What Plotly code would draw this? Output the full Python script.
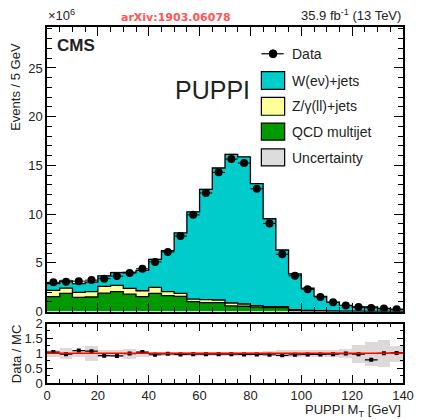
import plotly.graph_objects as go
import numpy as np

# ---------------- data ----------------
edges = list(range(0, 145, 5))
centers = [e + 2.5 for e in edges[:-1]]
data = [3.0, 3.06, 3.12, 3.23, 3.38, 3.64, 3.97, 4.4, 5.1, 6.12, 7.75, 9.93, 12.17, 14.29,
        15.65, 15.24, 12.6, 9.05, 5.88, 3.67, 2.3, 1.5, 0.95, 0.63, 0.46, 0.38, 0.32, 0.24]
ratio = [1.04, 0.97, 1.09, 1.07, 0.92, 0.91, 0.99, 1.04, 0.95, 0.98, 0.96, 0.97, 0.97, 0.97,
         0.97, 0.96, 0.96, 0.95, 0.93, 0.95, 0.96, 0.96, 0.97, 0.99, 0.97, 0.78, 1.0, 1.01]
qcd = [1.53, 1.87, 1.46, 1.5, 1.9, 2.04, 1.8, 1.53, 1.87, 1.63, 1.56, 1.02, 0.92, 0.92,
       0.58, 0.55, 0.45, 0.4, 0.4, 0.1, 0.05, 0.04, 0.03, 0.02, 0.02, 0.01, 0.01, 0.01]
zjets = [0.65, 0.54, 0.51, 0.54, 0.68, 0.65, 0.58, 0.61, 0.61, 0.41, 0.3, 0.27, 0.3, 0.27,
         0.3, 0.23, 0.15, 0.12, 0.12, 0.1, 0.08, 0.05, 0.04, 0.03, 0.02, 0.02, 0.01, 0.01]
# relative MC uncertainty shown in the ratio panel
unc_rel = [0.12, 0.18, 0.12, 0.26, 0.12, 0.12, 0.16, 0.1, 0.07, 0.07, 0.06, 0.06, 0.06, 0.06,
           0.06, 0.06, 0.07, 0.08, 0.12, 0.12, 0.12, 0.12, 0.12, 0.15, 0.3, 0.4, 0.45, 0.27]
# absolute uncertainty (x10^6) drawn on top of the stack in the main panel
unc_main = [0.12, 0.15, 0.12, 0.2, 0.12, 0.12, 0.15, 0.12, 0.1, 0.1, 0.1, 0.1, 0.1, 0.1,
            0.1, 0.1, 0.1, 0.1, 0.08, 0.06, 0.05, 0.05, 0.04, 0.04, 0.05, 0.05, 0.05, 0.03]
ratio_err = [0.02, 0.02, 0.02, 0.02, 0.02, 0.02, 0.02, 0.02, 0.01, 0.01, 0.01, 0.01, 0.01, 0.01,
             0.01, 0.01, 0.01, 0.01, 0.01, 0.01, 0.01, 0.01, 0.02, 0.02, 0.02, 0.03, 0.03, 0.03]

data = np.array(data)
ratio = np.array(ratio)
qcd = np.array(qcd)
zjets = np.array(zjets)
unc_rel = np.array(unc_rel)
unc_main = np.array(unc_main)
mc_total = data / ratio
wjets = mc_total - qcd - zjets

FONT = "Liberation Sans, Arial, sans-serif"
OFF = 8  # default page body margin
# screen-pixel frame of the reference
SX0, SX1, SY0, SY1 = 47, 414, 24, 383
W, H = 426 - OFF, 420 - OFF
L, R, T, B = SX0 - OFF, 426 - SX1, SY0 - OFF, 420 - SY1
PW, PH = SX1 - SX0, SY1 - SY0


def px(xp):
    return (xp - SX0) / PW


def py(yp):
    return (SY1 - yp) / PH


def step(vals):
    v = list(vals)
    return v + [v[-1]]


fig = go.Figure()

c1 = qcd
c2 = qcd + zjets
c3 = qcd + zjets + wjets

fig.add_trace(go.Scatter(x=edges, y=step(c1), mode="lines", line=dict(shape="hv", color="black", width=1.3),
                         fill="tozeroy", fillcolor="#009900", xaxis="x", yaxis="y", showlegend=False))
fig.add_trace(go.Scatter(x=edges, y=step(c2), mode="lines", line=dict(shape="hv", color="black", width=1.3),
                         fill="tonexty", fillcolor="#ffff99", xaxis="x", yaxis="y", showlegend=False))
fig.add_trace(go.Scatter(x=edges, y=step(c3), mode="lines", line=dict(shape="hv", color="black", width=1.3),
                         fill="tonexty", fillcolor="#00cccc", xaxis="x", yaxis="y", showlegend=False))

# uncertainty band on main plot
fig.add_trace(go.Bar(x=centers, y=2 * unc_main, base=mc_total - unc_main, width=5,
                     marker=dict(color="rgba(200,200,200,0.6)", line=dict(width=0)),
                     xaxis="x", yaxis="y", showlegend=False))

# data
fig.add_trace(go.Scatter(x=centers, y=data, mode="markers",
                         marker=dict(color="black", size=8),
                         error_x=dict(type="constant", value=2.5, width=0, thickness=1, color="black"),
                         xaxis="x", yaxis="y", showlegend=False))

# ratio panel
fig.add_trace(go.Bar(x=centers, y=2 * unc_rel, base=1 - unc_rel, width=5,
                     marker=dict(color="rgba(205,205,205,0.75)", line=dict(width=0)),
                     xaxis="x2", yaxis="y2", showlegend=False))
fig.add_trace(go.Scatter(x=centers, y=ratio, mode="markers",
                         marker=dict(color="black", size=4, symbol="square"),
                         error_x=dict(type="constant", value=2.5, width=0, thickness=1.2, color="black"),
                         error_y=dict(type="data", array=ratio_err, width=0, thickness=1, color="black"),
                         xaxis="x2", yaxis="y2", showlegend=False))

axis_common = dict(showline=True, linecolor="black", linewidth=1.5, mirror="ticks", ticks="inside",
                   tickcolor="black", showgrid=False, zeroline=False,
                   tickfont=dict(family=FONT, size=13, color="#222"))

fig.update_layout(
    width=W, height=H, margin=dict(l=L, r=R, t=T, b=B),
    paper_bgcolor="white", plot_bgcolor="white",
    barmode="overlay", bargap=0,
    font=dict(family=FONT, color="#222"),
    xaxis=dict(domain=[0, 1], anchor="y", range=[0, 140], dtick=20, ticklen=9, showticklabels=False,
               minor=dict(dtick=5, ticklen=5, ticks="inside", tickcolor="black"), **axis_common),
    yaxis=dict(domain=[py(311), 1], anchor="x", range=[0, 29.2], dtick=5, ticklen=9,
               minor=dict(dtick=1, ticklen=5, ticks="inside", tickcolor="black"), **axis_common),
    xaxis2=dict(domain=[0, 1], anchor="y2", range=[0, 140], dtick=20, ticklen=8, matches="x",
                minor=dict(dtick=5, ticklen=4, ticks="inside", tickcolor="black"), **axis_common),
    yaxis2=dict(domain=[0, py(323)], anchor="x2", range=[0, 2], tickvals=[0, 0.5, 1, 1.5, 2],
                ticktext=["0", "0.5", "1", "1.5", "2"], ticklen=6,
                minor=dict(dtick=0.25, ticklen=3, ticks="inside", tickcolor="black"), **axis_common),
)

shapes = []
# red line at 1 in ratio
shapes.append(dict(type="line", xref="x2 domain", yref="y2", x0=0, x1=1, y0=1, y1=1,
                   line=dict(color="red", width=1.5)))

# manual legend
shapes.append(dict(type="line", xref="paper", yref="paper", x0=px(268), x1=px(291), y0=py(51), y1=py(51),
                   line=dict(color="black", width=1.2)))
shapes.append(dict(type="circle", xref="paper", yref="paper", x0=px(276), x1=px(284), y0=py(55), y1=py(47),
                   fillcolor="black", line=dict(color="black", width=1)))
boxes = [(69, 87, "#00cccc"), (95, 113, "#ffff99"), (121, 138, "#009900"), (147, 164, "#dddddd")]
for y0, y1, col in boxes:
    shapes.append(dict(type="rect", xref="paper", yref="paper", x0=px(268), x1=px(292), y0=py(y1), y1=py(y0),
                       fillcolor=col, line=dict(color="black", width=1.2)))

annotations = []
legend_texts = [("Data", 51), ("W(eν)+jets", 78), ("Z/γ(ll)+jets", 104), ("QCD multijet", 130),
                ("Uncertainty", 156)]
for txt, yy in legend_texts:
    annotations.append(dict(text=txt, xref="paper", yref="paper", x=px(297), y=py(yy), xanchor="left",
                            yanchor="middle", showarrow=False, font=dict(family=FONT, size=14, color="#222")))

annotations += [
    dict(text="×10<sup>6</sup>", xref="paper", yref="paper", x=px(46), y=py(22), xanchor="left",
         yanchor="bottom", showarrow=False, font=dict(family=FONT, size=13, color="#222")),
    dict(text="<b>arXiv:1903.06078</b>", xref="paper", yref="paper", x=px(180), y=py(14), xanchor="center",
         yanchor="middle", showarrow=False, font=dict(family="DejaVu Sans", size=11, color="#ff5555")),
    dict(text="35.9 fb<sup>-1</sup> (13 TeV)", xref="paper", yref="paper", x=px(414), y=py(22),
         xanchor="right", yanchor="bottom", showarrow=False, font=dict(family=FONT, size=13, color="#222")),
    dict(text="<b>CMS</b>", xref="paper", yref="paper", x=px(55), y=py(43), xanchor="left",
         yanchor="middle", showarrow=False, font=dict(family=FONT, size=17, color="#222")),
    dict(text="PUPPI", xref="paper", yref="paper", x=px(218), y=py(88), xanchor="center",
         yanchor="middle", showarrow=False, font=dict(family=FONT, size=25, color="#222")),
    dict(text="Events / 5 GeV", xref="paper", yref="paper", x=px(15), y=py(38), xanchor="center",
         yanchor="top", textangle=-90, showarrow=False, font=dict(family=FONT, size=13, color="#222")),
    dict(text="Data / MC", xref="paper", yref="paper", x=px(15), y=py(353), xanchor="center",
         yanchor="middle", textangle=-90, showarrow=False, font=dict(family=FONT, size=13, color="#222")),
    dict(text="PUPPI M<sub>T</sub> [GeV]", xref="paper", yref="paper", x=px(414), y=py(411),
         xanchor="right", yanchor="middle", showarrow=False, font=dict(family=FONT, size=13, color="#222")),
]

fig.update_layout(shapes=shapes, annotations=annotations)
fig.write_html("out.html", config={"displayModeBar": False})
